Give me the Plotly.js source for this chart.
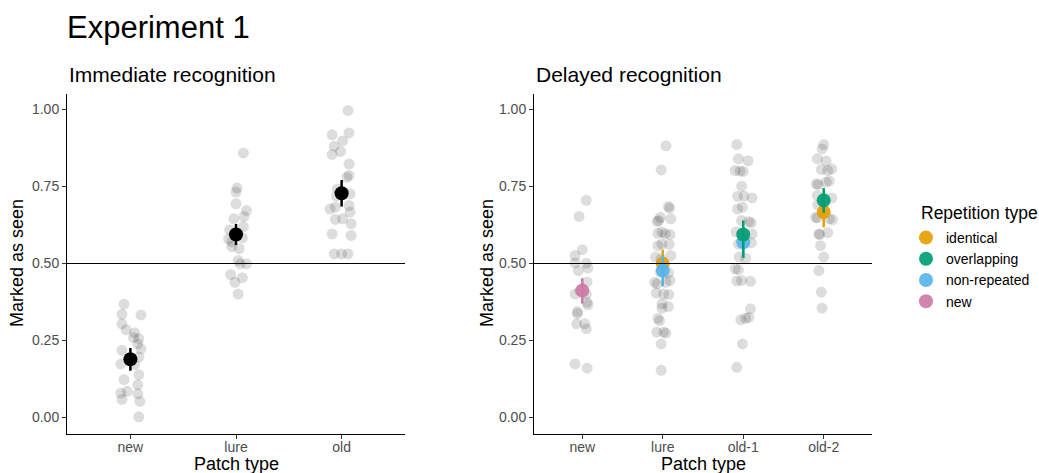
<!DOCTYPE html>
<html><head><meta charset="utf-8">
<script src="https://cdn.plot.ly/plotly-3.0.1.min.js"></script>
<style>html,body{margin:0;padding:0;background:#fff}#chart{width:1039px;height:473px}</style>
</head><body><div id="chart"></div>
<script>
// ---------- DATA ----------
const mainTitle = 'Experiment 1';
const leftTitle = 'Immediate recognition';
const rightTitle = 'Delayed recognition';
const xTitle = 'Patch type';
const yTitle = 'Marked as seen';
const legendTitle = 'Repetition type';

const leftCats = ['new', 'lure', 'old'];
const rightCats = ['new', 'lure', 'old-1', 'old-2'];

// Immediate recognition: individual participants (value, jitter offset)
const immNewVals = [0.368,0.335,0.333,0.304,0.285,0.275,0.260,0.256,0.239,0.223,0.218,0.196,0.174,0.172,0.139,0.123,0.106,0.085,0.079,0.077,0.059,0.052,0.002];
const immNewJit  = [-0.06,-0.08,0.10,-0.08,-0.04,0.04,0.03,0.08,0.07,0.10,-0.08,0.08,-0.09,0.04,0.08,-0.06,0.07,-0.03,-0.09,0.07,-0.08,0.09,0.08];
const immLureVals = [0.859,0.745,0.732,0.694,0.672,0.653,0.645,0.620,0.609,0.598,0.583,0.580,0.570,0.555,0.548,0.510,0.499,0.499,0.464,0.454,0.439,0.401];
const immLureJit  = [0.07,0.01,0.00,0.00,0.10,0.075,-0.02,0.07,-0.06,0.02,0.06,-0.07,-0.04,-0.04,0.03,0.02,0.04,0.10,-0.05,0.06,-0.01,0.02];
const immOldVals = [0.997,0.924,0.918,0.898,0.881,0.864,0.854,0.823,0.786,0.780,0.742,0.726,0.719,0.688,0.683,0.677,0.667,0.645,0.643,0.629,0.596,0.591,0.531,0.531,0.531];
const immOldJit  = [0.06,0.07,-0.09,0.01,-0.07,-0.01,-0.09,0.07,0.07,0.05,-0.04,0.08,-0.05,0.07,-0.06,-0.11,0.08,0.01,-0.06,0.09,-0.09,0.09,-0.07,0.00,0.06];
const immMeans = [0.189, 0.594, 0.728];
const immErr   = [0.037, 0.034, 0.043];

// Delayed recognition: individual points
const delNewVals = [0.705,0.653,0.545,0.526,0.502,0.501,0.485,0.477,0.440,0.412,0.401,0.400,0.374,0.366,0.344,0.337,0.304,0.304,0.288,0.174,0.160];
const delNewJit  = [0.05,-0.04,0.00,-0.09,-0.09,0.05,0.07,-0.05,0.06,-0.03,-0.09,0.05,0.06,0.07,-0.06,-0.06,-0.07,0.03,0.05,-0.09,0.06];
const delLureVals = [0.882,0.804,0.685,0.680,0.650,0.645,0.640,0.636,0.602,0.598,0.596,0.594,0.563,0.562,0.558,0.526,0.521,0.515,0.472,0.470,0.445,0.439,0.439,0.434,0.404,0.401,0.399,0.369,0.360,0.355,0.322,0.314,0.277,0.277,0.274,0.239,0.153];
const delLureJit  = [0.04,-0.02,0.07,0.085,-0.03,0.10,-0.05,-0.07,-0.01,-0.06,0.03,0.09,-0.01,0.08,-0.06,0.10,-0.09,-0.02,-0.03,0.07,0.09,-0.10,0.04,-0.07,-0.08,0.01,0.075,-0.01,0.07,-0.01,-0.06,-0.04,-0.075,0.01,0.04,-0.02,-0.02];
const delOld1Vals = [0.886,0.840,0.834,0.802,0.800,0.799,0.751,0.719,0.718,0.713,0.683,0.677,0.640,0.636,0.632,0.602,0.598,0.596,0.567,0.563,0.521,0.517,0.483,0.480,0.445,0.443,0.442,0.353,0.325,0.322,0.317,0.239,0.163];
const delOld1Jit  = [-0.08,-0.06,0.06,-0.10,-0.04,0.00,-0.02,0.01,-0.07,0.11,-0.01,-0.07,-0.02,0.07,0.10,-0.09,-0.01,0.11,0.10,-0.06,-0.05,0.03,-0.10,-0.06,-0.02,-0.08,0.09,0.09,0.07,0.03,-0.03,-0.01,-0.08];
const delOld2Vals = [0.886,0.872,0.840,0.833,0.807,0.805,0.802,0.768,0.764,0.759,0.756,0.721,0.713,0.705,0.690,0.667,0.650,0.648,0.645,0.642,0.600,0.596,0.594,0.558,0.521,0.477,0.407,0.355];
const delOld2Jit  = [0.00,-0.02,-0.08,0.03,0.10,-0.03,0.05,0.07,0.03,-0.09,-0.07,-0.08,0.10,0.00,-0.075,0.00,-0.10,-0.08,0.07,0.11,0.05,-0.06,-0.05,-0.04,0.00,-0.06,-0.03,-0.02];

// Delayed recognition: means by repetition type
const repTypes  = ['identical', 'overlapping', 'non-repeated', 'new'];
const repColors = ['#E69F00', '#009E73', '#56B4E9', '#CC79A7'];
const identCats = ['lure', 'old-2'];   const identMeans = [0.499, 0.667]; const identErrP = [0.046, 0.048]; const identErrM = [0.046, 0.049];
const overCats  = ['old-1', 'old-2'];  const overMeans  = [0.594, 0.705]; const overErrP  = [0.046, 0.040]; const overErrM  = [0.075, 0.040];
const nonCats   = ['lure', 'old-1'];   const nonMeans   = [0.477, 0.569]; const nonErrP   = [0.050, 0.050]; const nonErrM   = [0.051, 0.050];
const newCats   = ['new'];             const newMeans   = [0.412];        const newErrP   = [0.040];        const newErrM   = [0.042];

// ---------- BUILD ----------
const W = 1039, H = 473;
const FONT = 'Liberation Sans, Arial, Helvetica, sans-serif';
const pos = (cats, c) => cats.indexOf(c) + 1;

function cloud(cats, cat, vals, jit, xa, ya) {
  return {
    type: 'scatter', mode: 'markers', xaxis: xa, yaxis: ya, showlegend: false, hoverinfo: 'y',
    x: vals.map((v, i) => pos(cats, cat) + jit[i]), y: vals,
    marker: { size: 11, color: 'rgba(0,0,0,0.135)', line: { width: 0 } }
  };
}

const traces = [
  cloud(leftCats, 'new', immNewVals, immNewJit, 'x', 'y'),
  cloud(leftCats, 'lure', immLureVals, immLureJit, 'x', 'y'),
  cloud(leftCats, 'old', immOldVals, immOldJit, 'x', 'y'),
  cloud(rightCats, 'new', delNewVals, delNewJit, 'x2', 'y2'),
  cloud(rightCats, 'lure', delLureVals, delLureJit, 'x2', 'y2'),
  cloud(rightCats, 'old-1', delOld1Vals, delOld1Jit, 'x2', 'y2'),
  cloud(rightCats, 'old-2', delOld2Vals, delOld2Jit, 'x2', 'y2'),
  {
    type: 'scatter', mode: 'markers', xaxis: 'x', yaxis: 'y', showlegend: false,
    x: leftCats.map(c => pos(leftCats, c)), y: immMeans,
    error_y: { type: 'data', array: immErr, color: '#000', thickness: 2.5, width: 0 },
    marker: { size: 14, color: '#000' }
  }
];

function meanTrace(k, cats, means, ep, em, rank) {
  return {
    type: 'scatter', mode: 'markers', xaxis: 'x2', yaxis: 'y2', name: repTypes[k], legendrank: rank,
    x: cats.map(c => pos(rightCats, c)), y: means,
    error_y: { type: 'data', array: ep, arrayminus: em, color: repColors[k], thickness: 2.5, width: 0 },
    marker: { size: 14, color: repColors[k], opacity: 0.92 }
  };
}
// drawing order: identical, non-repeated, overlapping, new
traces.push(meanTrace(0, identCats, identMeans, identErrP, identErrM, 1));
traces.push(meanTrace(2, nonCats, nonMeans, nonErrP, nonErrM, 3));
traces.push(meanTrace(1, overCats, overMeans, overErrP, overErrM, 2));
traces.push(meanTrace(3, newCats, newMeans, newErrP, newErrM, 4));

const yTop = 1 - 93.5 / H, yBot = 1 - 433.5 / H;
const axBase = {
  showgrid: false, zeroline: false, showline: true, linecolor: '#000', linewidth: 1,
  ticks: 'outside', ticklen: 4, tickwidth: 1, tickcolor: '#333',
  tickfont: { family: FONT, size: 14, color: '#4d4d4d' }, fixedrange: true
};
const yAx = (anchor) => Object.assign({}, axBase, {
  anchor: anchor, domain: [yBot, yTop], range: [-0.052, 1.052],
  tickmode: 'linear', tick0: 0, dtick: 0.25, tickformat: '.2f'
});

const layout = {
  width: W, height: H, autosize: false,
  margin: { l: 0, r: 0, t: 0, b: 0 },
  paper_bgcolor: '#fff', plot_bgcolor: '#fff',
  font: { family: FONT, color: '#000' },
  title: { text: mainTitle, xref: 'paper', x: 67 / W, xanchor: 'left', yref: 'container', y: 1 - 27 / H, yanchor: 'middle',
           font: { family: FONT, size: 31, color: '#000' } },
  xaxis: Object.assign({}, axBase, { anchor: 'y', domain: [67 / W, 405 / W], range: [0.4, 3.6], ticklabelstandoff: -3,
           tickmode: 'array', tickvals: leftCats.map(c => pos(leftCats, c)), ticktext: leftCats }),
  yaxis: yAx('x'),
  xaxis2: Object.assign({}, axBase, { anchor: 'y2', domain: [534 / W, 872 / W], range: [0.4, 4.6], ticklabelstandoff: -3,
           tickmode: 'array', tickvals: rightCats.map(c => pos(rightCats, c)), ticktext: rightCats }),
  yaxis2: yAx('x2'),
  shapes: [
    { type: 'line', xref: 'x domain', yref: 'y', x0: 0, x1: 1, y0: 0.5, y1: 0.5, line: { color: '#000', width: 1 } },
    { type: 'line', xref: 'x2 domain', yref: 'y2', x0: 0, x1: 1, y0: 0.5, y1: 0.5, line: { color: '#000', width: 1 } }
  ],
  showlegend: true,
  legend: { x: 906 / W, xanchor: 'left', y: 1 - 222 / H, yanchor: 'top', bgcolor: 'rgba(0,0,0,0)',
            font: { family: FONT, size: 14, color: '#000' }, tracegroupgap: 0 },
  annotations: [
    { text: leftTitle, xref: 'paper', yref: 'paper', x: 67 / W, y: 1 - 74.5 / H, xanchor: 'left', yanchor: 'middle', showarrow: false,
      font: { family: FONT, size: 21, color: '#000' } },
    { text: rightTitle, xref: 'paper', yref: 'paper', x: 534 / W, y: 1 - 74.5 / H, xanchor: 'left', yanchor: 'middle', showarrow: false,
      font: { family: FONT, size: 21, color: '#000' } },
    { text: yTitle, xref: 'paper', yref: 'paper', x: 17 / W, y: 1 - 263 / H, xanchor: 'center', yanchor: 'middle', textangle: -90, showarrow: false,
      font: { family: FONT, size: 18, color: '#000' } },
    { text: yTitle, xref: 'paper', yref: 'paper', x: 487 / W, y: 1 - 263 / H, xanchor: 'center', yanchor: 'middle', textangle: -90, showarrow: false,
      font: { family: FONT, size: 18, color: '#000' } },
    { text: xTitle, xref: 'paper', yref: 'paper', x: 236 / W, y: 1 - 464 / H, xanchor: 'center', yanchor: 'middle', showarrow: false,
      font: { family: FONT, size: 18, color: '#000' } },
    { text: xTitle, xref: 'paper', yref: 'paper', x: 703 / W, y: 1 - 464 / H, xanchor: 'center', yanchor: 'middle', showarrow: false,
      font: { family: FONT, size: 18, color: '#000' } },
    { text: legendTitle, xref: 'paper', yref: 'paper', x: 919 / W, y: 1 - 213 / H, xanchor: 'left', yanchor: 'middle', showarrow: false,
      font: { family: FONT, size: 17.5, color: '#000' } }
  ]
};

Plotly.newPlot('chart', traces, layout, { staticPlot: true, displayModeBar: false });
</script></body></html>
